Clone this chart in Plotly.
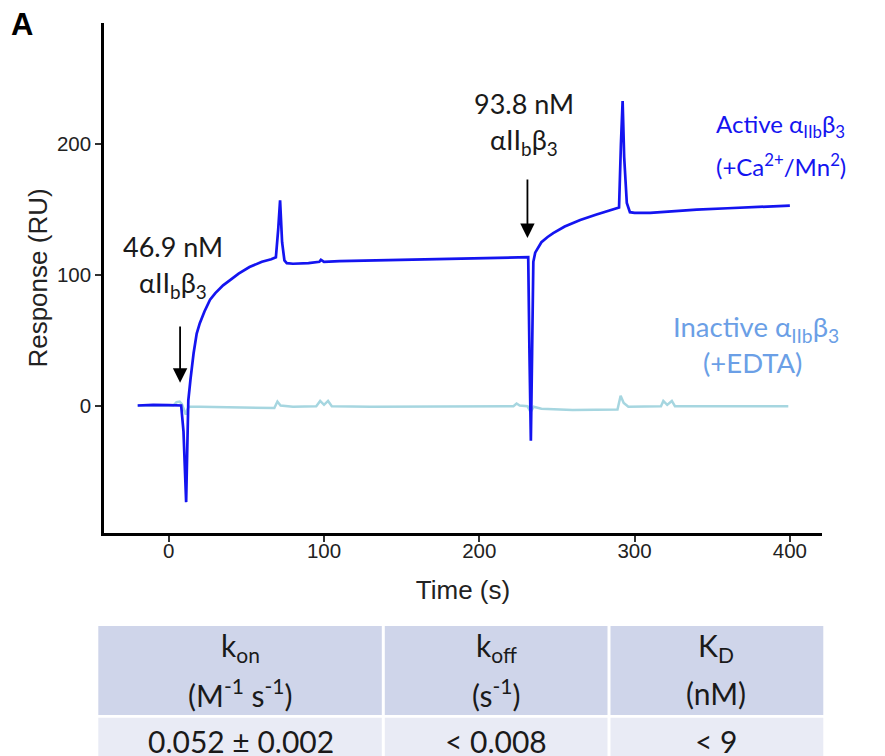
import plotly.graph_objects as go

# ---------------- data ----------------
active_time = [-20, -10, 0, 5, 8, 9.5, 10.5, 11.2, 11.8, 12.6, 14, 16, 18, 20, 23, 26.6, 30, 35, 39.5,
               45, 52, 60, 66, 69, 70.5, 71.7, 73, 74.5, 76, 80, 90, 97, 98, 100, 110, 130, 150,
               170, 200, 225, 231.5, 232.3, 233.2, 234, 234.8, 236, 238, 240, 244, 247.6, 255,
               265, 275, 283, 290, 291.2, 292.3, 293.3, 295, 297, 300, 310, 320, 340, 360, 380, 400]
active_ru = [0, 0.5, 0.3, 0, 0, -20, -60, -74, -40, 4, 20, 40, 55, 63, 72, 81, 86, 92, 96,
             101, 106, 110, 112, 113.5, 135, 157, 125, 111, 109, 108.5, 109, 110, 111.5, 110, 110.5, 111, 112,
             112.5, 113, 113.5, 113.5, 40, -27, 40, 110, 117, 121.6, 125, 129, 132, 137,
             142, 146, 149, 151.5, 200, 233, 190, 155, 148, 147.5, 147.5, 148.5, 150, 151, 152, 153]

inactive_time = [-20, 3, 5, 7, 8.5, 10, 11, 12, 13, 20, 40, 60, 68, 70, 72, 80, 95, 97.5, 100, 102.6,
                 105, 130, 160, 200, 222, 224, 226, 231, 233, 235, 240, 260, 280, 289, 291, 293,
                 296, 310, 317, 318.5, 321, 324, 326, 340, 370, 399]
inactive_ru = [0, 0, 2.5, 3, 1, -3, -7, -3, -1, -1, -1.5, -2, -2, 3, 0, -1, -0.5, 3.5, 0.5, 3.5,
               -0.5, -1, -1, -0.5, -0.5, 1.5, 0, -0.5, -5, -1, -2.5, -3.5, -3, -3, 7.5, 2,
               -1, -1, -0.5, 3.5, 0.5, 3.5, -0.5, -0.5, -0.5, -0.5]

x_ticks = [0, 100, 200, 300, 400]
y_ticks = [0, 100, 200]

table_headers = ["k<sub>on</sub>", "k<sub>off</sub>", "K<sub>D</sub>"]
table_units = ["(M<sup>-1</sup> s<sup>-1</sup>)", "(s<sup>-1</sup>)", "(nM)"]
table_values = ["0.052 ± 0.002", "&lt; 0.008", "&lt; 9"]

# ---------------- figure ----------------
W, H = 885, 756
OX, OY = 8, 8  # page body margin offset


def px(x):
    return (x - OX) / W


def py(y):
    return 1 - (y - OY) / H


ACTIVE = "#1414f0"
INACTIVE_LINE = "#a6d6e0"
INACTIVE_TEXT = "#6b9fe6"
TXT = "#1a1a1a"
ANN_FONT = "Lato"
AX_FONT = "Liberation Sans"

fig = go.Figure()
fig.add_trace(go.Scatter(x=inactive_time, y=inactive_ru, mode="lines",
                         line=dict(color=INACTIVE_LINE, width=2.5), hoverinfo="skip"))
fig.add_trace(go.Scatter(x=active_time, y=active_ru, mode="lines",
                         line=dict(color=ACTIVE, width=2.7), hoverinfo="skip"))

axis_common = dict(showline=True, linecolor="black", linewidth=2.5, ticks="outside", ticklen=6,
                   tickwidth=2, tickcolor="#333", showgrid=False, zeroline=False, automargin=False,
                   tickfont=dict(family=AX_FONT, size=20.5, color="#222"))

fig.update_layout(
    width=W, height=H, margin=dict(l=0, r=0, t=0, b=0, pad=0),
    plot_bgcolor="white", paper_bgcolor="white", showlegend=False,
    xaxis=dict(domain=[px(104), px(822)], range=[-41.7, 420.7], tickvals=x_ticks,
               ticklabelstandoff=-8,
               title=dict(text="Time (s)", font=dict(family=AX_FONT, size=26, color="#222"), standoff=20),
               **axis_common),
    yaxis=dict(domain=[py(533), py(23)], range=[-97.6, 292.8], tickvals=y_ticks,
               title=dict(text="Response (RU)", font=dict(family=AX_FONT, size=26, color="#222"), standoff=2),
               **axis_common),
)

anns = []
# panel letter
anns.append(dict(xref="paper", yref="paper", x=px(22), y=py(24.5), text="<b>A</b>", showarrow=False,
                 xanchor="center", yanchor="middle", font=dict(family=AX_FONT, size=31, color="black")))


def txt(x, y, text, color=TXT, size=27):
    anns.append(dict(xref="x", yref="y", x=x, y=y, text=text, showarrow=False, xanchor="center",
                     yanchor="middle", font=dict(family=ANN_FONT, size=size, color=color)))


txt(2.8, 122, "46.9 nM")
txt(2.8, 93, "αII<sub>b</sub>β<sub>3</sub>")
txt(228.9, 231, "93.8 nM")
txt(228.9, 202, "αII<sub>b</sub>β<sub>3</sub>")
txt(394, 214, "Active α<sub>IIb</sub>β<sub>3</sub>", color=ACTIVE, size=24)
txt(394, 184, "(+Ca<sup>2+</sup>/Mn<sup>2</sup>)", color=ACTIVE, size=24)
txt(378.5, 58.7, "Inactive α<sub>IIb</sub>β<sub>3</sub>", color=INACTIVE_TEXT, size=27.5)
txt(375.7, 33, "(+EDTA)", color=INACTIVE_TEXT, size=27.5)

# injection arrows
for (xa, ytail, yhead) in [(7.3, 61.7, 17.4), (231, 174.2, 128.3)]:
    anns.append(dict(xref="x", yref="y", x=xa, y=yhead, axref="x", ayref="y", ax=xa, ay=ytail,
                     text="", showarrow=True, arrowhead=2, arrowsize=1.6, arrowwidth=1.8,
                     arrowcolor="black"))

# ---------------- table ----------------
col_edges = [98.3, 383.3, 609, 823.3]
hdr_top, hdr_bot, row_top, row_bot = 626, 715, 717.7, 770
shapes = []
for i in range(3):
    x0 = col_edges[i] + (1.5 if i > 0 else 0)
    x1 = col_edges[i + 1] - (1.5 if i < 2 else 0)
    shapes.append(dict(type="rect", xref="paper", yref="paper", x0=px(x0), x1=px(x1),
                       y0=py(hdr_bot), y1=py(hdr_top), fillcolor="#CFD5EA", line=dict(width=0),
                       layer="below"))
    shapes.append(dict(type="rect", xref="paper", yref="paper", x0=px(x0), x1=px(x1),
                       y0=py(row_bot), y1=py(row_top), fillcolor="#E9EBF5", line=dict(width=0),
                       layer="below"))
    cx = px((col_edges[i] + col_edges[i + 1]) / 2)
    for (yy, t) in [(647, table_headers[i]), (692.5, table_units[i]), (741, table_values[i])]:
        anns.append(dict(xref="paper", yref="paper", x=cx, y=py(yy), text=t, showarrow=False,
                         xanchor="center", yanchor="middle",
                         font=dict(family=ANN_FONT, size=30, color=TXT)))

fig.update_layout(annotations=anns, shapes=shapes)
fig.write_html("out.html")
